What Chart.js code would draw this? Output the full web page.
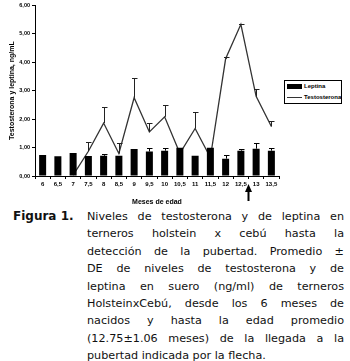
<!DOCTYPE html>
<html>
<head>
<meta charset="utf-8">
<script src="https://cdn.jsdelivr.net/npm/chart.js@4.4.0/dist/chart.umd.min.js"></script>
<style>
  body { margin: 0; background: #fff; width: 350px; height: 361px; overflow: hidden; position: relative; }
  #wrap { position: absolute; left: 0; top: 0; width: 350px; height: 206px; }
  #legend { position: absolute; left: 284px; top: 80px; width: 56px; height: 22px; border: 1px solid #000;
            font: bold 6px "Liberation Sans", Arial, sans-serif; background: #fff; }
  #legend div { position: relative; height: 11px; line-height: 11px; padding-left: 19px; }
  #legend .sw { position: absolute; left: 2px; top: 3px; width: 15px; height: 5px; background: #000; }
  #legend .ln { position: absolute; left: 2px; top: 5px; width: 15px; height: 1px; background: #333; }
  #caption { position: absolute; left: 13px; top: 208px; width: 332px; display: flex;
             font: 11.2px "DejaVu Sans", Verdana, sans-serif; line-height: 17.4px; color: #111; }
  #caption b { width: 74px; flex: none; font-size: 12px; }
  #caption .txt { width: 257px; }
  #caption .txt div { white-space: nowrap; text-align: justify; text-align-last: justify; }
  #caption .txt div.last { text-align-last: left; }
</style>
</head>
<body>
<div id="wrap"><canvas id="chart"></canvas></div>
<div id="legend">
  <div><span class="sw"></span>Leptina</div>
  <div><span class="ln"></span>Testosterona</div>
</div>
<div id="caption">
  <b>Figura 1.</b>
  <div class="txt">
    <div>Niveles de testosterona y de leptina en</div>
    <div>terneros holstein x cebú hasta la</div>
    <div>detección de la pubertad. Promedio ±</div>
    <div>DE de niveles de testosterona y de</div>
    <div>leptina en suero (ng/ml) de terneros</div>
    <div>HolsteinxCebú, desde los 6 meses de</div>
    <div>nacidos y hasta la edad promedio</div>
    <div>(12.75±1.06 meses) de la llegada a la</div>
    <div class="last">pubertad indicada por la flecha.</div>
  </div>
</div>
<script>
// meses de edad
const meses = ["6", "6,5", "7", "7,5", "8", "8,5", "9", "9,5", "10", "10,5", "11", "11,5", "12", "12,5", "13", "13,5"];

// leptina (ng/mL) y su DE (solo hacia arriba)
const leptina = [0.74, 0.69, 0.81, 0.70, 0.71, 0.71, 0.95, 0.86, 0.89, 0.99, 0.71, 0.99, 0.61, 0.89, 0.96, 0.89];
const leptinaDE = [0, 0, 0, 0, 0.08, 0, 0, 0.13, 0.10, 0, 0, 0, 0.13, 0.06, 0.21, 0.10];

// testosterona (ng/mL) y su DE
const testosterona = [null, null, 0.03, 0.87, 1.86, 0.79, 2.75, 1.55, 2.08, 0.80, 1.67, 0.65, 4.12, 5.33, 2.80, 1.74];
const testosteronaDE = [0, 0, 0, 0.32, 0.56, 0.38, 0.68, 0.33, 0.42, 0, 0.57, 0, 0.08, 0.03, 0.25, 0.18];

const yTicks = [0, 1, 2, 3, 4, 5, 6];
const pubertad = 12.75; // edad promedio, marcada con la flecha

// barras de error y flecha
const extras = {
    id: "extras",
    afterDatasetsDraw(chart) {
        const ctx = chart.ctx;
        const x = chart.scales.x, y = chart.scales.y;
        const err = [[leptina, leptinaDE, "#000"], [testosterona, testosteronaDE, "#222"]];
        ctx.save();
        ctx.lineWidth = 1;
        err.forEach(([vals, de, color]) => {
            ctx.strokeStyle = color;
            vals.forEach((v, i) => {
                if (v == null || !de[i]) return;
                const px = Math.round(x.getPixelForValue(i)) + 0.5;
                const y0 = y.getPixelForValue(v), y1 = Math.round(y.getPixelForValue(v + de[i])) + 0.5;
                ctx.beginPath();
                ctx.moveTo(px, y0); ctx.lineTo(px, y1);
                ctx.moveTo(px - 2.5, y1); ctx.lineTo(px + 3, y1);
                ctx.stroke();
            });
        });
        // flecha de pubertad
        const i0 = Math.floor(pubertad * 2) - 12;
        const ax = x.getPixelForValue(i0) + (x.getPixelForValue(i0 + 1) - x.getPixelForValue(i0)) * ((pubertad * 2 - 12) - i0);
        ctx.fillStyle = "#000";
        ctx.fillRect(ax - 1, 190, 2, 11);
        ctx.beginPath();
        ctx.moveTo(ax, 184); ctx.lineTo(ax - 3.5, 192); ctx.lineTo(ax + 3.5, 192);
        ctx.closePath(); ctx.fill();
        ctx.restore();
    }
};

new Chart(document.getElementById("chart"), {
    type: "bar",
    data: {
        labels: meses,
        datasets: [
            {
                label: "Leptina",
                data: leptina,
                backgroundColor: "#000",
                categoryPercentage: 1,
                barPercentage: 0.46,
                order: 0
            },
            {
                type: "line",
                label: "Testosterona",
                data: testosterona,
                borderColor: "#333",
                borderWidth: 1.3,
                pointRadius: 0,
                tension: 0,
                order: 1
            }
        ]
    },
    options: {
        responsive: true,
        maintainAspectRatio: false,
        animation: false,
        layout: { padding: { top: 4, right: 71, left: 8, bottom: 0 } },
        plugins: { legend: { display: false }, tooltip: { enabled: false } },
        scales: {
            x: {
                offset: true,
                grid: { offset: true, drawOnChartArea: false, color: "#000", tickLength: 3, lineWidth: 1 },
                border: { color: "#000", width: 1 },
                ticks: { color: "#000", font: { family: "Liberation Sans", size: 6, weight: "bold" }, padding: 2, maxRotation: 0, autoSkip: false },
                title: { display: true, text: "Meses de edad", color: "#000", font: { family: "Liberation Sans", size: 7, weight: "bold" }, padding: { top: 3, bottom: 0 } },
                afterFit(s) { s.height = 30; }
            },
            y: {
                min: 0,
                max: 6,
                afterBuildTicks(s) { s.ticks = yTicks.map(v => ({ value: v })); },
                grid: { drawOnChartArea: false, color: "#000", tickLength: 3 },
                border: { color: "#000", width: 1 },
                ticks: { color: "#000", font: { family: "Liberation Sans", size: 5.5, weight: "bold" }, padding: 2,
                         callback: v => v.toFixed(2).replace(".", ",") },
                title: { display: true, text: "Testosterona y leptina, ng/mL", color: "#000", font: { family: "Liberation Sans", size: 7, weight: "bold" }, padding: { top: 0, bottom: 2 } },
                afterFit(s) { s.width = 27; }
            }
        }
    },
    plugins: [extras]
});
</script>
</body>
</html>
